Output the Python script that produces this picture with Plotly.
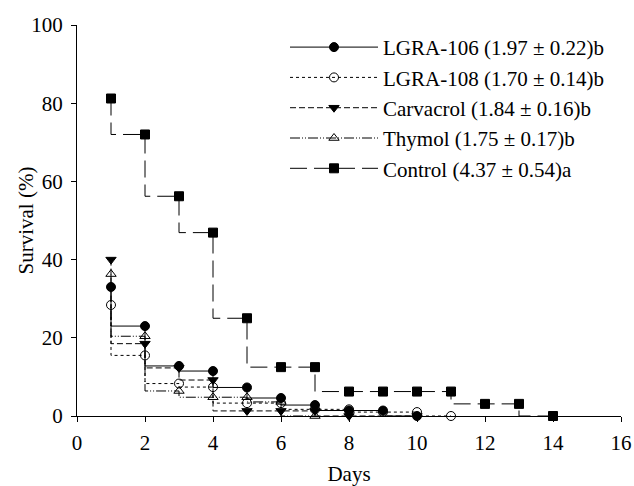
import plotly.graph_objects as go

days_106 = [1, 2, 3, 4, 5, 6, 7, 8, 9, 10]
surv_106 = [33.0, 23.0, 12.8, 11.5, 7.3, 4.6, 2.8, 1.4, 1.4, 0.0]

days_108 = [1, 2, 3, 4, 5, 6, 7, 8, 9, 10, 11]
surv_108 = [28.4, 15.5, 8.3, 7.4, 3.3, 3.3, 1.7, 1.7, 1.0, 1.0, 0.0]

days_carv = [1, 2, 3, 4, 5, 6, 7, 8, 10]
surv_carv = [40.0, 18.5, 12.3, 9.2, 1.3, 1.3, 1.3, 0.0, 0.0]

days_thy = [1, 2, 3, 4, 5, 6, 7]
surv_thy = [36.3, 20.4, 6.4, 4.8, 4.8, 3.6, 0.0]

days_ctrl = [1, 2, 3, 4, 5, 6, 7, 8, 9, 10, 11, 12, 13, 14]
surv_ctrl = [81.2, 72.0, 56.2, 46.9, 25.0, 12.5, 12.5, 6.25, 6.25, 6.25, 6.25, 3.1, 3.1, 0.0]

names = [
    "LGRA-106 (1.97 ± 0.22)b",
    "LGRA-108 (1.70 ± 0.14)b",
    "Carvacrol (1.84 ± 0.16)b",
    "Thymol (1.75 ± 0.17)b",
    "Control (4.37 ± 0.54)a",
]

x_ticks = list(range(0, 17, 2))
y_ticks = list(range(0, 101, 20))

FONT = "Liberation Serif, Times New Roman, serif"
FS = 21

fig = go.Figure()
series = [
    (days_106, surv_106, names[0], "solid", "circle"),
    (days_108, surv_108, names[1], "dot", "circle-open"),
    (days_carv, surv_carv, names[2], "6px,3px", "triangle-down"),
    (days_thy, surv_thy, names[3], "10px,2px,1px,2px,1px,2px", "triangle-up-open"),
    (days_ctrl, surv_ctrl, names[4], "17px,7px", "square"),
]
for x, y, n, dash, sym in series:
    fig.add_trace(go.Scatter(
        x=x, y=y, name=n, mode="lines+markers",
        line=dict(shape="vh", color="black", width=1, dash=dash),
        marker=dict(symbol=sym, size=9, color="black",
                    line=dict(color="black", width=1)),
        cliponaxis=False,
    ))

fig.update_layout(
    width=634, height=486,
    margin=dict(l=77, r=13, t=25, b=70),
    paper_bgcolor="white", plot_bgcolor="white",
    font=dict(family=FONT, size=FS, color="black"),
    showlegend=True,
    legend=dict(
        x=(285 - 77) / 544, y=0.995, xanchor="left", yanchor="top",
        bgcolor="rgba(0,0,0,0)", font=dict(family=FONT, size=FS, color="black"),
        itemwidth=88, tracegroupgap=0,
    ),
    xaxis=dict(
        range=[0, 16], tickmode="array", tickvals=x_ticks,
        showgrid=False, zeroline=False, showline=True, linecolor="black",
        linewidth=1, ticks="outside", ticklen=5, tickcolor="black",
        automargin=False, ticklabelstandoff=3,
        title=dict(text="Days", font=dict(family=FONT, size=FS), standoff=17),
        tickfont=dict(family=FONT, size=FS),
    ),
    yaxis=dict(
        range=[0, 100], tickmode="array", tickvals=y_ticks,
        showgrid=False, zeroline=False, showline=True, linecolor="black",
        linewidth=1, ticks="outside", ticklen=5, tickcolor="black",
        automargin=False, ticklabelstandoff=4,
        tickfont=dict(family=FONT, size=FS),
    ),
    annotations=[dict(
        text="Survival (%)", xref="paper", yref="paper",
        x=(25 - 77) / 544, y=0.5, xanchor="center", yanchor="middle",
        textangle=-90, showarrow=False, font=dict(family=FONT, size=FS),
    )],
)

fig.write_html("out.html", config={"displayModeBar": False},
               post_script="document.body.style.margin='0';")
